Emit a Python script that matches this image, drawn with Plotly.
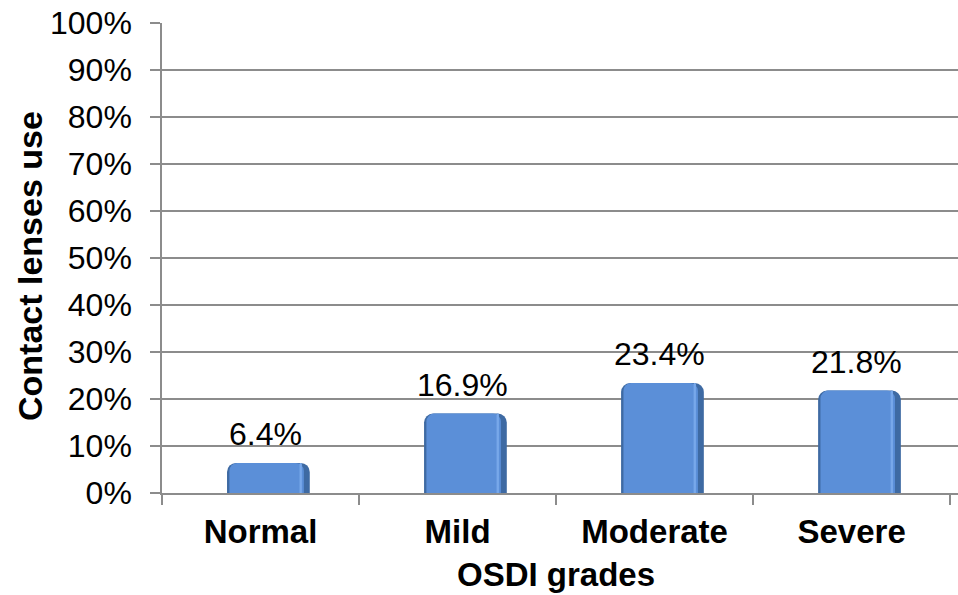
import plotly.graph_objects as go

grades = ["Normal", "Mild", "Moderate", "Severe"]
lens_use = [6.4, 16.9, 23.4, 21.8]
y_ticks = [0, 10, 20, 30, 40, 50, 60, 70, 80, 90, 100]
y_tick_text = [f"{v}%" for v in y_ticks]

FONT = "Liberation Sans, Arial, sans-serif"
GRID = "#8c8c8c"
BAR_W = 0.42
BAR_START = -0.17  # bars sit slightly right of the category centre

fig = go.Figure()

# layered bars give a bevelled look: dark outer shell, lit body, light rim stripe
layers = [
    # (width, offset, color, corner radius)
    (BAR_W, BAR_START, "#3e6aa3", 9),
    (BAR_W - 0.042, BAR_START + 0.012, "#5b8fd8", 8),
    (0.012, BAR_START + BAR_W - 0.052, "#78a8ea", 3),
]
for w, off, col, rad in layers:
    fig.add_trace(go.Bar(
        x=grades, y=lens_use,
        width=w, offset=off,
        marker=dict(color=col, line=dict(width=0), cornerradius=rad),
        hoverinfo="skip",
    ))

# value labels above each bar
for g, v in zip(grades, lens_use):
    fig.add_annotation(
        x=g, y=v, text=f"{v}%", showarrow=False,
        yanchor="bottom", yshift=9, xshift=5,
        font=dict(family=FONT, size=32, color="black"),
    )

# axis titles
fig.add_annotation(
    text="<b>OSDI grades</b>", showarrow=False,
    xref="paper", yref="paper", x=0.495, y=0,
    yanchor="middle", yshift=-81,
    font=dict(family=FONT, size=33, color="black"),
)
fig.add_annotation(
    text="<b>Contact lenses use</b>", showarrow=False, textangle=-90,
    xref="paper", yref="paper", x=0, y=0.5,
    xanchor="center", xshift=-132, yshift=-8,
    font=dict(family=FONT, size=34, color="black"),
)

fig.update_layout(
    width=958, height=595,
    margin=dict(l=162, r=0, t=23, b=102),
    plot_bgcolor="white", paper_bgcolor="white",
    showlegend=False,
    barmode="overlay",
    font=dict(family=FONT, color="black"),
)

fig.update_xaxes(
    type="category",
    range=[-0.5, 3.54],
    tickson="boundaries",
    ticks="outside", ticklen=10, tickcolor=GRID, tickwidth=1.5,
    showline=True, linecolor=GRID, linewidth=1.5,
    showgrid=False,
    tickfont=dict(family=FONT, size=33, color="black", weight="bold"),
    ticklabelstandoff=9,
)

fig.update_yaxes(
    range=[0, 100],
    tickvals=y_ticks, ticktext=y_tick_text,
    ticks="outside", ticklen=10, tickcolor=GRID, tickwidth=1.5,
    showline=True, linecolor=GRID, linewidth=1.5,
    showgrid=True, gridcolor=GRID, gridwidth=1.5,
    zeroline=False,
    tickfont=dict(family=FONT, size=32, color="black"),
    ticklabelstandoff=12,
)

fig.write_html("out.html")
